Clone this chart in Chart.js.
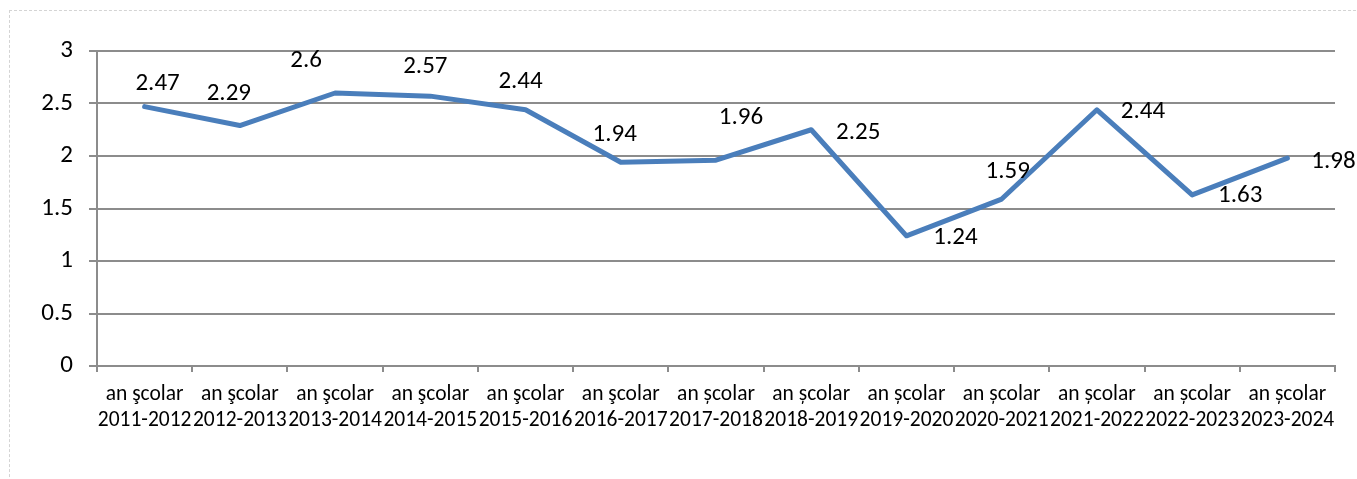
<!DOCTYPE html>
<html>
<head>
<meta charset="utf-8">
<script src="https://cdn.jsdelivr.net/npm/chart.js@4/dist/chart.umd.min.js"></script>
<style>
  html, body { margin: 0; padding: 0; background: #fff; }
  #wrap { position: relative; width: 1357px; height: 479px; overflow: hidden; }
  #frame { position: absolute; left: 9px; top: 10px; width: 1400px; height: 500px; border: 1px dashed #d4d4d4; }
  #c { position: absolute; left: 0; top: 0; }
</style>
</head>
<body>
<div id="wrap">
  <div id="frame"></div>
  <canvas id="c" width="1357" height="479"></canvas>
</div>
<script>
const categories = [
  ['an şcolar', '2011-2012'], ['an şcolar', '2012-2013'], ['an şcolar', '2013-2014'],
  ['an şcolar', '2014-2015'], ['an şcolar', '2015-2016'], ['an şcolar', '2016-2017'],
  ['an școlar', '2017-2018'], ['an școlar', '2018-2019'], ['an școlar', '2019-2020'],
  ['an școlar', '2020-2021'], ['an școlar', '2021-2022'], ['an școlar', '2022-2023'],
  ['an școlar', '2023-2024']
];
const values = [2.47, 2.29, 2.6, 2.57, 2.44, 1.94, 1.96, 2.25, 1.24, 1.59, 2.44, 1.63, 1.98];
const yTicks = [0, 0.5, 1, 1.5, 2, 2.5, 3];

// where each value label sits relative to its point (px)
const labelOffsets = [
  [13, -23], [-11, -32], [-29, -32], [-5, -29], [-5, -28], [-6, -28], [25, -42],
  [47, 3], [49, 2], [6, -27], [46, 2], [48, 1], [46, 4]
];

const FONT = "Carlito, Calibri, 'Liberation Sans', sans-serif";
const gridColor = '#8c8c8c';

const valueLabels = {
  id: 'valueLabels',
  afterDatasetsDraw(chart) {
    const ctx = chart.ctx;
    const meta = chart.getDatasetMeta(0);
    ctx.save();
    ctx.font = '25px ' + FONT;
    ctx.fillStyle = '#000';
    ctx.textAlign = 'center';
    ctx.textBaseline = 'middle';
    meta.data.forEach((pt, i) => {
      const off = labelOffsets[i];
      ctx.fillText(String(values[i]), pt.x + off[0], pt.y + off[1]);
    });
    ctx.restore();
  }
};

new Chart(document.getElementById('c'), {
  type: 'line',
  data: {
    labels: categories,
    datasets: [{
      data: values,
      borderColor: '#4a7ebb',
      borderWidth: 5,
      pointRadius: 0,
      tension: 0,
      borderCapStyle: 'round',
      borderJoinStyle: 'round'
    }]
  },
  options: {
    responsive: false,
    animation: false,
    layout: { padding: { top: 51, right: 22, left: 0, bottom: 0 } },
    plugins: { legend: { display: false }, tooltip: { enabled: false } },
    scales: {
      x: {
        offset: true,
        grid: { offset: true, drawOnChartArea: false, drawTicks: true, tickLength: 6, color: gridColor, lineWidth: 2 },
        border: { display: true, color: gridColor, width: 2 },
        ticks: {
          autoSkip: false, maxRotation: 0, minRotation: 0, padding: 10,
          color: '#000', font: { family: FONT, size: 21.5, lineHeight: 1.2 }
        },
        afterFit: s => { s.height = 113; }
      },
      y: {
        min: 0, max: 3,
        afterBuildTicks: s => { s.ticks = yTicks.map(v => ({ value: v })); },
        grid: { color: gridColor, lineWidth: 2, tickLength: 8 },
        border: { display: true, color: gridColor, width: 2 },
        ticks: {
          padding: 16, color: '#000', font: { family: FONT, size: 25 },
          callback: v => String(v)
        },
        afterFit: s => { s.width = 97; }
      }
    }
  },
  plugins: [valueLabels]
});
</script>
</body>
</html>
